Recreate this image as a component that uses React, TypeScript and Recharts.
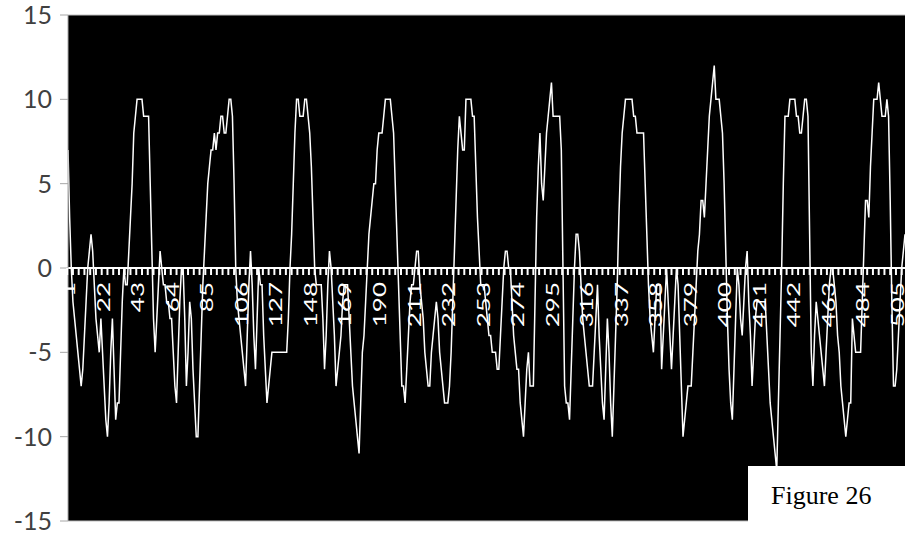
import { LineChart, Line, XAxis, YAxis, CartesianGrid, ReferenceLine } from "recharts";

// readings, one row per labelled step of 21 points
const values = [
  7, 3, 0, -2, -3, -4, -5, -6, -7, -6, -4, -2, 0, 1, 2, 1, -1, -3, -4, -5, -3,
  -5, -7, -9, -10, -8, -5, -3, -6, -9, -8, -8, -5, -2, 0, -1, -1, 1, 3, 5, 8, 9,
  10, 10, 10, 10, 9, 9, 9, 9, 5, 1, -3, -5, -3, -1, 1, 0, -1, -1, -2, -2, -3,
  -3, -5, -7, -8, -5, -2, 0, 0, -3, -7, -5, -2, -3, -6, -8, -10, -10, -7, -4, -1, 1,
  3, 5, 6, 7, 7, 8, 7, 8, 8, 9, 9, 8, 8, 9, 10, 10, 9, 5, 0, -2, -3,
  -4, -5, -6, -7, -4, -1, 1, -1, -4, -6, -3, 0, -1, -1, -4, -6, -8, -7, -6, -5, -5,
  -5, -5, -5, -5, -5, -5, -5, -5, -3, 0, 2, 5, 8, 10, 10, 9, 9, 9, 10, 10, 9,
  8, 6, 3, 0, -1, -1, -1, -1, -3, -6, -4, -1, 1, 0, -2, -4, -7, -6, -5, -4, -2,
  -1, -1, -1, -3, -5, -7, -8, -9, -10, -11, -8, -5, -4, -2, 0, 2, 3, 4, 5, 5, 7,
  8, 8, 8, 9, 10, 10, 10, 10, 9, 8, 5, 2, -1, -4, -7, -7, -8, -6, -4, -2, -1,
  -1, 0, 1, 1, -1, -2, -3, -5, -6, -7, -7, -5, -4, -3, -2, -3, -5, -6, -7, -8, -8,
  -8, -7, -5, -2, 1, 4, 7, 9, 8, 7, 7, 10, 10, 10, 10, 9, 9, 6, 3, 1, -1,
  -1, -1, -2, -3, -4, -4, -5, -5, -5, -6, -6, -4, -2, 0, 1, 1, 0, 0, -2, -4, -5,
  -6, -6, -8, -9, -10, -8, -6, -5, -7, -7, -7, -2, 3, 6, 8, 5, 4, 6, 8, 9, 10,
  11, 9, 9, 9, 9, 9, 7, 0, -7, -8, -8, -9, -6, -3, 0, 2, 2, 1, -1, -3, -4,
  -5, -6, -7, -7, -7, -5, -3, -1, -4, -6, -8, -9, -6, -3, -5, -8, -10, -7, -4, -1, 3,
  6, 8, 9, 10, 10, 10, 10, 10, 9, 9, 8, 8, 8, 8, 8, 5, 2, -1, -3, -4, -5,
  -3, -1, -1, -1, -6, -4, -2, 0, -2, -4, -6, -4, -2, 0, -1, -4, -7, -10, -9, -8, -7,
  -7, -7, -5, -3, -1, 1, 2, 4, 4, 3, 5, 7, 9, 10, 11, 12, 10, 10, 10, 9, 8,
  5, 1, -3, -6, -8, -9, -6, -3, 0, -1, -3, -4, -2, 0, 1, -2, -4, -7, -5, -3, -2,
  -2, -2, -2, -2, -2, -4, -6, -8, -9, -10, -11, -12, -8, -4, 0, 5, 9, 9, 9, 10, 10,
  10, 10, 9, 9, 8, 8, 9, 10, 10, 9, 2, -5, -7, -4, -2, -3, -4, -5, -6, -7, -5,
  -3, -1, 0, 0, -1, -2, -4, -5, -7, -8, -9, -10, -9, -8, -8, -3, -4, -5, -5, -5, -5,
  -2, 1, 4, 4, 3, 6, 8, 10, 10, 10, 11, 10, 9, 9, 9, 10, 9, 4, -2, -7, -7,
  -6, -4, -2, 0, 1, 2,
];
const yTicks = [-15, -10, -5, 0, 5, 10, 15];
const labelEvery = 21;

const data = values.map((v, i) => ({ n: i + 1, v }));

const W = 905;
const H = 536;
const X_AXIS_H = 15;
const MARGIN = { top: 15, right: 0, bottom: 0, left: 0 };
const Y_AXIS_W = 68;
const PLOT_H = H - MARGIN.top - MARGIN.bottom - X_AXIS_H;
const ZERO_Y = MARGIN.top + PLOT_H / 2;
const BAND = (W - Y_AXIS_W - MARGIN.right) / values.length;

function renderCategoryTick(props: any) {
  const { x, index, payload } = props;
  const left = x - BAND / 2;
  const showLabel = (Number(payload.value) - 1) % labelEvery === 0;
  return (
    <g key={`t-${index}`}>
      {index % 7 === 0 && (
        <>
          <line x1={left} x2={left} y1={ZERO_Y} y2={ZERO_Y + 7} stroke="#fff" strokeWidth={2} />
          <line
            x1={left + 3.5 * BAND}
            x2={left + 3.5 * BAND}
            y1={ZERO_Y}
            y2={ZERO_Y + 7}
            stroke="#fff"
            strokeWidth={2}
          />
        </>
      )}
      {showLabel && (
        <text
          transform={`translate(${x + 1},${ZERO_Y + 14}) rotate(-90) scale(1,0.66)`}
          textAnchor="end"
          dy="0.36em"
          fill="#fff"
          fontSize={26}
          fontFamily="Lato"
        >
          {payload.value}
        </text>
      )}
    </g>
  );
}

export default function App() {
  return (
    <div style={{ position: "absolute", left: 0, top: 0, width: W, height: H, background: "#fff" }}>
      <LineChart width={W} height={H} data={data} margin={MARGIN}>
        <CartesianGrid fill="#000" horizontal={false} vertical={false} />
        <ReferenceLine y={15} stroke="#bfbfbf" />
        <ReferenceLine y={-15} stroke="#bfbfbf" />
        <XAxis
          dataKey="n"
          type="category"
          height={X_AXIS_H}
          interval={0}
          axisLine={false}
          tickLine={false}
          tick={renderCategoryTick}
        />
        <YAxis
          width={Y_AXIS_W}
          domain={[-15, 15]}
          ticks={yTicks}
          interval={0}
          tickSize={8}
          tickMargin={8}
          axisLine={{ stroke: "#a6a6a6" }}
          tickLine={{ stroke: "#a6a6a6" }}
          tick={{ fill: "#404040", fontSize: 25, fontFamily: "Lato" }}
        />
        <ReferenceLine y={0} stroke="#fff" strokeWidth={2} />
        <Line
          type="linear"
          dataKey="v"
          stroke="#fff"
          strokeWidth={1.5}
          dot={false}
          isAnimationActive={false}
        />
      </LineChart>
      <div
        style={{
          position: "absolute",
          left: 748,
          top: 466,
          width: W - 748,
          height: H - 466,
          background: "#fff",
        }}
      >
        <span
          style={{
            position: "absolute",
            left: 23,
            top: 17,
            fontFamily: "'Liberation Serif', serif",
            fontSize: 26,
            lineHeight: 1,
            color: "#000",
          }}
        >
          Figure 26
        </span>
      </div>
    </div>
  );
}
